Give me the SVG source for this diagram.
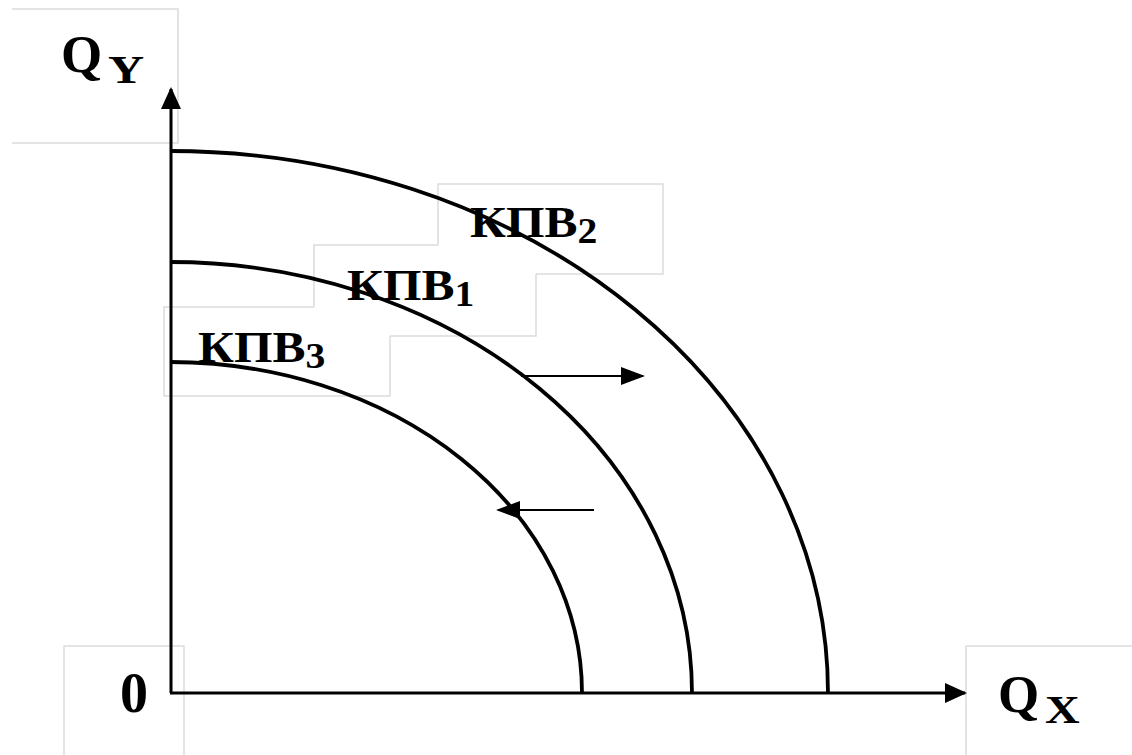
<svg xmlns="http://www.w3.org/2000/svg" width="1132" height="755" viewBox="0 0 1132 755">
<style>
.box{fill:none;stroke:#dcdcdc;stroke-width:1.5}
.curve{fill:none;stroke:#000;stroke-width:3.8}
.axis{fill:none;stroke:#000;stroke-width:3}
.arr{fill:none;stroke:#000;stroke-width:2}
.lbl{font-family:"Liberation Serif","Times New Roman",serif;font-weight:bold;fill:#000}
</style>
<defs>
<marker id="axh" viewBox="0 0 22 20" refX="20" refY="10" markerWidth="22" markerHeight="20" markerUnits="userSpaceOnUse" orient="auto">
<path d="M0,0 L22,10 L0,20 Z" fill="#000"/>
</marker>
<marker id="sh" viewBox="0 0 24 18" refX="22" refY="9" markerWidth="24" markerHeight="18" markerUnits="userSpaceOnUse" orient="auto">
<path d="M0,0 L24,9 L0,18 Z" fill="#000"/>
</marker>
</defs>
<rect width="1132" height="755" fill="#fff"/>
<g id="boxes">
<path class="box" d="M12,9 H178 V143 H12"/>
<path class="box" d="M438,245 V184 H663 V274 H536"/>
<path class="box" d="M314,307 V245 H438 M536,274 V336 H390"/>
<path class="box" d="M314,307 H164 V396 H390 V336"/>
<path class="box" d="M64,755 V646 H184 V755"/>
<path class="box" d="M1132,646 H966 V755"/>
</g>
<g id="connectors">
<path id="kpv2-curve" class="curve" d="M170,151 A658,542 0 0 1 828,693"/>
<path id="kpv1-curve" class="curve" d="M170,262 A522,431 0 0 1 692,693"/>
<path id="kpv3-curve" class="curve" d="M170,362 A412,331 0 0 1 582,693"/>
<path class="axis" d="M171,693 V89" marker-end="url(#axh)"/>
<path class="axis" d="M170,693 H965" marker-end="url(#axh)"/>
<path class="arr" d="M521,376 H643" marker-end="url(#sh)"/>
<path class="arr" d="M594,510 H498" marker-end="url(#sh)"/>
</g>
<g id="label-qy">
<text class="lbl" x="61" y="72" font-size="53">Q</text>
<text class="lbl" font-size="40" transform="translate(108,83) scale(1.25,1)">Y</text>
</g>
<g id="label-qx">
<text class="lbl" x="998" y="712" font-size="53">Q</text>
<text class="lbl" font-size="40" transform="translate(1045,723) scale(1.2,1)">X</text>
</g>
<g id="label-0"><text class="lbl" x="120" y="712" font-size="56">0</text></g>
<g id="label-kpv2"><text class="lbl" font-size="45" transform="translate(470,237) scale(1.1,1)">КПВ<tspan font-size="36" dy="6">2</tspan></text></g>
<g id="label-kpv1"><text class="lbl" font-size="45" transform="translate(347,300) scale(1.1,1)">КПВ<tspan font-size="36" dy="6">1</tspan></text></g>
<g id="label-kpv3"><text class="lbl" font-size="45" transform="translate(198,362) scale(1.1,1)">КПВ<tspan font-size="36" dy="6">3</tspan></text></g>
</svg>
